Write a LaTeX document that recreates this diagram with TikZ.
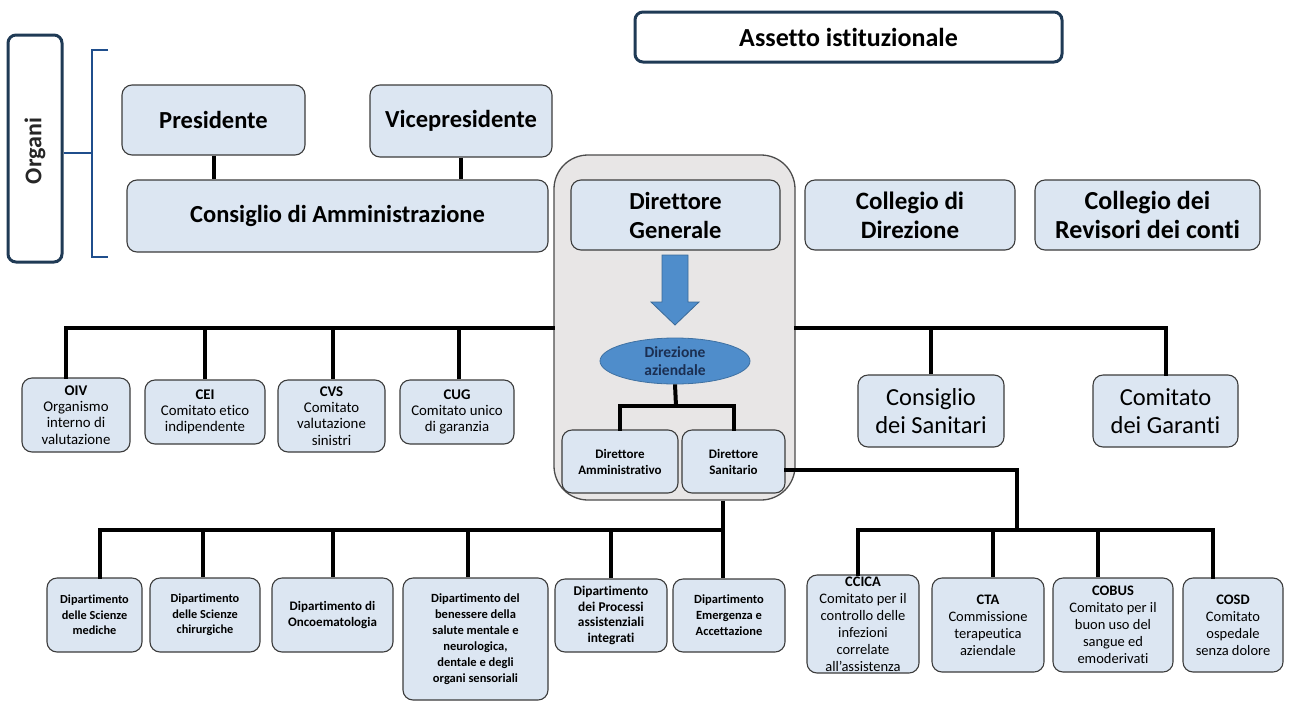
\documentclass[tikz,border=0pt]{standalone}
\usepackage{fontspec}
\setmainfont{Carlito}[Ligatures=NoCommon]
\usetikzlibrary{shapes.geometric}
\definecolor{boxfill}{HTML}{DCE6F2}
\definecolor{boxline}{HTML}{3C3C3C}
\definecolor{grayfill}{HTML}{E8E6E6}
\definecolor{navy}{HTML}{1F3A55}
\definecolor{midblue}{HTML}{4F8DCB}
\definecolor{brblue}{HTML}{1F4E8C}
\definecolor{elltext}{HTML}{1B2F52}
\tikzset{
  box/.style={draw=boxline, fill=boxfill, line width=1.1pt, rounded corners=10pt, align=center, inner sep=1pt, text=black},
  bigt/.style={font=\fontsize{24.5}{29}\selectfont\bfseries},
  midt/.style={font=\fontsize{24.5}{28}\selectfont},
  comt/.style={font=\fontsize{14.8}{16.3}\selectfont},
  dept/.style={font=\fontsize{12.3}{15.5}\selectfont\bfseries},
  cmt/.style={font=\fontsize{14.5}{17}\selectfont},
  conn/.style={line width=4pt, black, line cap=rect},
  frame/.style={draw=navy, line width=3pt, rounded corners=8pt, fill=white},
}
\begin{document}
\begin{tikzpicture}[x=1pt,y=-1pt]
\useasboundingbox (0,0) rectangle (1292,702);
\fill[white] (0,0) rectangle (1292,702);

% titles and Organi
\node[frame, font=\fontsize{26}{30}\selectfont\bfseries, minimum width=427pt, minimum height=50pt] (assetto) at (848.5,37) {Assetto istituzionale};
\node[frame, minimum width=54pt, minimum height=227pt] (org) at (35,148.5) {};
\node[font=\fontsize{24}{27}\selectfont\bfseries, rotate=90, text=black!85] (orgt) at (35,151) {Organi};
\coordinate (br) at (92,153);
\draw[brblue, line width=2.8pt] (108,50) -- (92,50) -- (92,257) -- (108,257);
\draw[brblue, line width=2.8pt] (org.east |- br) -- (br);

% top organs
\node[box, bigt, minimum width=183pt, minimum height=70pt] (pres) at (213.5,120) {Presidente};
\node[box, bigt, minimum width=182pt, minimum height=72pt] (vice) at (461,121) {Vicepresidente};
\node[box, bigt, minimum width=421pt, minimum height=72pt] (cda) at (337.5,216) {Consiglio di Amministrazione};
\draw[conn, line cap=butt] (pres.south) -- (pres.south |- cda.north);
\draw[conn, line cap=butt] (vice.south) -- (vice.south |- cda.north);

% grey container
\node[draw=black!70, fill=grayfill, line width=1.3pt, rounded corners=34pt, minimum width=241pt, minimum height=345pt] (dgbox) at (674.5,327.5) {};
\node[box, bigt, minimum width=209pt, minimum height=70pt] (dg) at (675.5,215) {Direttore\\Generale};
\filldraw[fill=midblue, draw=midblue!75!black, line width=0.8pt, line join=miter] (662,255) -- (688,255) -- (688,302) -- (699,302) -- (675,325) -- (651,302) -- (662,302) -- cycle;
\node[ellipse, draw=midblue!80!black, fill=midblue, line width=0.8pt, minimum width=150pt, minimum height=46pt, inner sep=0pt, align=center, text=elltext, font=\fontsize{15.5}{17.5}\selectfont\bfseries] (dir) at (675,361) {Direzione\\aziendale};
\node[box, font=\fontsize{13}{16}\selectfont\bfseries, minimum width=116pt, minimum height=63pt] (da) at (620,461.5) {Direttore\\Amministrativo};
\node[box, font=\fontsize{13}{16}\selectfont\bfseries, minimum width=103pt, minimum height=63pt] (ds) at (733.5,461.5) {Direttore\\Sanitario};
\coordinate (dj0) at (676,406);
\draw[conn, line cap=butt] (dir.south) -- (dj0);
\draw[conn] (da.north) |- (dj0) -| (ds.north);

% right top organs
\node[box, font=\fontsize{25}{29}\selectfont\bfseries, minimum width=210pt, minimum height=70pt] (cdd) at (910,215) {Collegio di\\Direzione};
\node[box, font=\fontsize{26}{29}\selectfont\bfseries, minimum width=225pt, minimum height=70pt] (crc) at (1147.5,215) {Collegio dei\\Revisori dei conti};

% left committees
\node[box, comt, minimum width=108pt, minimum height=74pt] (oiv) at (76,415) {\textbf{OIV}\\Organismo\\interno di\\valutazione};
\node[box, comt, minimum width=120pt, minimum height=64pt] (cei) at (205,412) {\textbf{CEI}\\Comitato etico\\indipendente};
\node[box, comt, minimum width=107pt, minimum height=72pt] (cvs) at (331.5,416) {\textbf{CVS}\\Comitato\\valutazione\\sinistri};
\node[box, comt, minimum width=114pt, minimum height=64pt] (cug) at (457,412) {\textbf{CUG}\\Comitato unico\\di garanzia};
\draw[conn] (dgbox.west) -| ([xshift=-10pt]oiv.north);
\draw[conn, line cap=butt] (cei.north) -- (cei.north |- dgbox.west);
\draw[conn, line cap=butt] ([xshift=1.5pt]cvs.north) -- ([xshift=1.5pt]cvs.north |- dgbox.west);
\draw[conn, line cap=butt] ([xshift=2pt]cug.north) -- ([xshift=2pt]cug.north |- dgbox.west);

% right committees
\node[box, midt, minimum width=146pt, minimum height=72pt] (csan) at (931,411) {Consiglio\\dei Sanitari};
\node[box, midt, minimum width=145pt, minimum height=72pt] (cgar) at (1165.5,411) {Comitato\\dei Garanti};
\draw[conn] (dgbox.east) -| (cgar.north);
\draw[conn, line cap=butt] (csan.north) -- (csan.north |- dgbox.east);

% departments
\node[box, dept, minimum width=95pt, minimum height=74pt] (dmed) at (94.5,615) {Dipartimento\\delle Scienze\\mediche};
\node[box, dept, minimum width=110pt, minimum height=74pt] (dchir) at (205,615) {Dipartimento\\delle Scienze\\chirurgiche};
\node[box, font=\fontsize{13}{16}\selectfont\bfseries, minimum width=121pt, minimum height=74pt] (donco) at (332.5,615) {Dipartimento di\\Oncoematologia};
\node[box, font=\fontsize{12.5}{16}\selectfont\bfseries, minimum width=145pt, minimum height=122pt] (dben) at (475.5,639) {Dipartimento del\\benessere della\\salute mentale e\\neurologica,\\dentale e degli\\organi sensoriali};
\node[box, font=\fontsize{13.4}{15.7}\selectfont\bfseries, minimum width=112pt, minimum height=73pt] (dproc) at (611,615.5) {Dipartimento\\dei Processi\\assistenziali\\integrati};
\node[box, font=\fontsize{12.5}{16}\selectfont\bfseries, minimum width=112pt, minimum height=73pt] (demer) at (729,615.5) {Dipartimento\\Emergenza e\\Accettazione};
\coordinate (dj) at (723,530);
\draw[conn, line cap=butt] (dj |- dgbox.south) -- (dj);
\draw[conn] ([xshift=5pt]dmed.north) |- (dj);
\draw[conn, line cap=butt] ([xshift=-2pt]dchir.north) -- ([xshift=-2pt]dchir.north |- dj);
\draw[conn, line cap=butt] (donco.north) -- (donco.north |- dj);
\draw[conn, line cap=butt] ([xshift=-8pt]dben.north) -- ([xshift=-8pt]dben.north |- dj);
\draw[conn, line cap=butt] (dproc.north) -- (dproc.north |- dj);
\draw[conn, line cap=butt] (dj -| demer.north) ++(-6pt,0) -- ([xshift=-6pt]demer.north);

% hospital committees
\node[box, cmt, inner sep=0pt, minimum width=112pt, minimum height=98pt] (ccica) at (863,624) {\textbf{CCICA}\\Comitato per il\\controllo delle\\infezioni\\correlate\\all’assistenza};
\node[box, cmt, minimum width=112pt, minimum height=94pt] (cta) at (988,625) {\textbf{CTA}\\Commissione\\terapeutica\\aziendale};
\node[box, cmt, minimum width=120pt, minimum height=94pt] (cobus) at (1113,625) {\textbf{COBUS}\\Comitato per il\\buon uso del\\sangue ed\\emoderivati};
\node[box, cmt, minimum width=100pt, minimum height=94pt] (cosd) at (1233,625) {\textbf{COSD}\\Comitato\\ospedale\\senza dolore};
\coordinate (cj) at (1017,530);
\draw[conn] ([yshift=-8pt]ds.east) -| (cj);
\draw[conn] ([xshift=-5pt]ccica.north) |- (cj) -| ([xshift=-20pt]cosd.north);
\draw[conn, line cap=butt] ([xshift=5pt]cta.north) -- ([xshift=5pt]cta.north |- cj);
\draw[conn, line cap=butt] ([xshift=-15pt]cobus.north) -- ([xshift=-15pt]cobus.north |- cj);
\end{tikzpicture}
\end{document}
